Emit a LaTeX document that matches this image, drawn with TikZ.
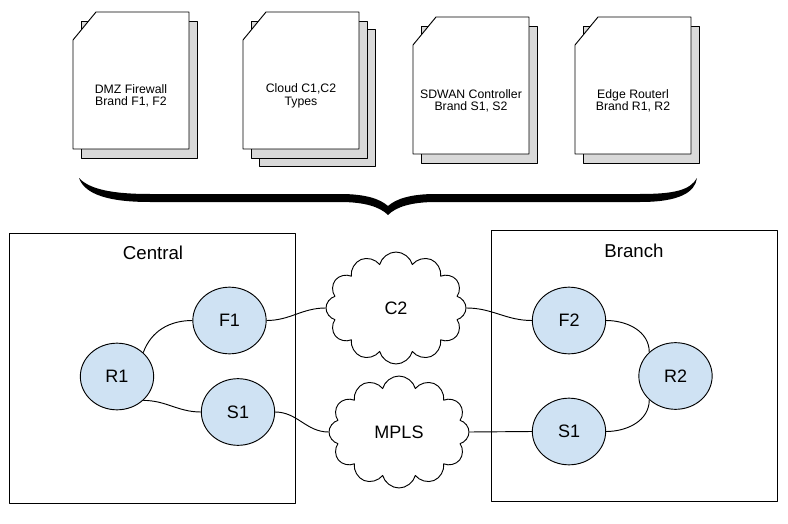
\documentclass[tikz,border=0pt]{standalone}
\usepackage{fontspec}
\setmainfont{Liberation Sans}
\usetikzlibrary{shapes.geometric,shapes.symbols}
\definecolor{nodeblue}{HTML}{CFE2F3}
\definecolor{shadowgray}{HTML}{D9D9D9}

\begin{document}
\begin{tikzpicture}[x=0.75pt, y=-0.75pt, line width=0.7pt, line join=round,
  site/.style={draw, ellipse, fill=nodeblue, minimum width=55pt, minimum height=50pt,
    inner sep=0pt, font=\fontsize{13.5}{14}\selectfont},
  net/.style={draw, cloud, cloud puffs=12, cloud ignores aspect, inner sep=0pt,
    minimum width=105pt, minimum height=84pt, font=\fontsize{13.5}{14}\selectfont},
  area/.style={draw, minimum width=214.5pt, minimum height=203pt},
  arealabel/.style={font=\fontsize{14}{14}\selectfont},
  doctext/.style={align=center, font=\fontsize{9.2}{9.5}\selectfont}]
  \useasboundingbox (0,0) rectangle (788,524);
  % the documents
  \foreach \x/\y in {259/29, 81/21, 251/21, 421/26, 583/26}
    \filldraw[fill=shadowgray] (\x,\y) rectangle ++(116,137);
  \foreach \x/\y in {73/12, 243/12, 413/17, 575/17}
    \filldraw[fill=white] (\x+23,\y) -- (\x+116,\y) -- (\x+116,\y+137)
      -- (\x,\y+137) -- (\x,\y+28) -- cycle;
  \node[doctext] (dmz) at (131,96) {DMZ Firewall\\Brand F1, F2};
  \node[doctext] (cloudtypes) at (301,96) {Cloud C1,C2\\Types};
  \node[doctext] (sdwan) at (471,101) {SDWAN Controller\\Brand S1, S2};
  \node[doctext] (edge) at (633,101) {Edge Routerl\\Brand R1, R2};
  % the brace
  \fill (79,178) .. controls (85,195) and (110,202) .. (150,202) -- (340,202)
    .. controls (365,202) and (380,207) .. (388,215)
    .. controls (396,207) and (411,202) .. (436,202) -- (640,202)
    .. controls (680,202) and (695,192) .. (697,178)
    .. controls (690,190) and (675,194) .. (640,194) -- (436,194)
    .. controls (410,194) and (396,199) .. (388,206)
    .. controls (380,199) and (366,194) .. (340,194) -- (150,194)
    .. controls (115,194) and (90,190) .. (79,178) -- cycle;
  % the sites
  \node[area] (central) at (152,368.5) {};
  \node[area] (branch) at (634,366) {};
  \node[arealabel] (centrallbl) at (153,253) {Central};
  \node[arealabel] (branchlbl) at (634,251) {Branch};
  \node[site] (F1) at (229.5,320.5) {F1};
  \node[site] (R1) at (117,376.5) {R1};
  \node[site] (S1) at (238,412) {S1};
  \node[site] (F2) at (569,320.5) {F2};
  \node[site] (R2) at (675.5,376) {R2};
  \node[site] (S2) at (569,431.5) {S1};
  % the clouds
  \node[net] (C2) at (396,308) {C2};
  \node[net] (mpls) at (399,432) {MPLS};
  % the links
  \draw (R1.north east) to[out=70,in=180] (F1.west);
  \draw (R1.south east) to[out=0,in=180] (S1.west);
  \draw (F1.east) to[out=0,in=180] (C2.west);
  \draw (S1.east) to[out=0,in=180] (mpls.west);
  \draw (C2.east) to[out=0,in=180] (F2.west);
  \draw (mpls.east) -- (S2.west);
  \draw (F2.east) to[out=0,in=90] (R2.north west);
  \draw (S2.east) to[out=0,in=-90] (R2.south west);
\end{tikzpicture}
\end{document}
